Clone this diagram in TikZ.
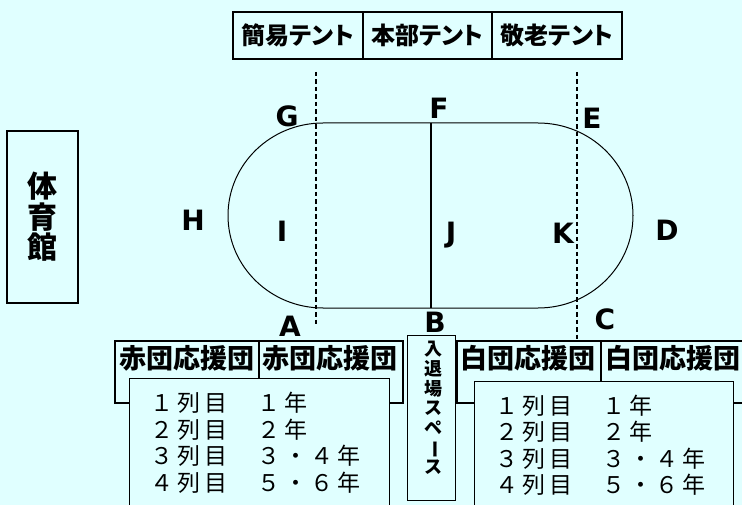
\documentclass[tikz,border=0pt]{standalone}
\usepackage{fontspec}
\newfontfamily\jp{Noto Sans CJK JP}
\newfontfamily\latn{DejaVu Sans}
\definecolor{bg}{RGB}{224,255,255}
\makeatletter
\newcommand\pitched[2]{\@tfor\pp@c:=#2\do{\makebox[#1][c]{\pp@c}}}
\makeatother
\tikzset{
  lbl/.style={font=\latn\bfseries\fontsize{28}{28}\selectfont,inner sep=0pt},
  tentbox/.style={draw,fill=bg,line width=1.5pt,minimum height=47pt,inner sep=0pt,
    font=\jp\bfseries\fontsize{24}{24}\selectfont\addfontfeature{RawFeature=+palt}},
  framebox/.style={draw,fill=bg,line width=1.3pt},
  listbox/.style={draw,fill=bg,line width=1pt},
  hdrtext/.style={inner sep=0pt,font=\jp\bfseries\fontsize{27}{27}\selectfont},
  rowtext/.style={inner sep=0pt,anchor=west,font=\jp\fontsize{23}{23}\selectfont},
  track/.style={line width=1pt},
  guide/.style={line width=1.1pt,dash pattern=on 4.5pt off 3pt},
}
\begin{document}
\begin{tikzpicture}[x=1pt,y=-1pt]
\useasboundingbox (0,0) rectangle (742,505);
\fill[bg] (0,0) rectangle (742,505);
\clip (0,0) rectangle (742,505);

% track
\coordinate (tl) at (323,123);
\coordinate (tr) at (538,123);
\coordinate (br) at (538,308);
\coordinate (bl) at (323,308);
\draw[track] (tl) -- (tr) arc[start angle=90,end angle=-90,x radius=95pt,y radius=92.5pt]
  -- (bl) arc[start angle=270,end angle=90,x radius=95pt,y radius=92.5pt] -- cycle;

% centre line F-B
\coordinate (ftop) at (431,123);
\coordinate (bbot) at (431,308);
\draw[line width=1.7pt] (ftop) -- (bbot);

% dashed guides
\coordinate (d1a) at (316,72);
\coordinate (d1b) at (316,327);
\coordinate (d2a) at (577,72);
\coordinate (d2b) at (577,341);
\draw[guide] (d1a) -- (d1b);
\draw[guide] (d2a) -- (d2b);

% tents
\node[tentbox,minimum width=130pt] (t1) at (298,35.5) {簡易テント};
\node[tentbox,minimum width=129pt] (t2) at (427.5,35.5) {本部テント};
\node[tentbox,minimum width=130pt] (t3) at (557,35.5) {敬老テント};

% gym
\node[draw,fill=bg,line width=2pt,minimum width=71pt,minimum height=172pt,inner sep=0pt,
  align=center,font=\jp\bfseries\fontsize{30}{30.5}\selectfont] (gym) at (42.5,217) {体\\育\\館};

% letters
\node[lbl] (G) at (287,116) {G};
\node[lbl] (F) at (439,108) {F};
\node[lbl] (E) at (592,118) {E};
\node[lbl] (H) at (193,220) {H};
\node[lbl] (I) at (282,231) {I};
\node[lbl] (J) at (451,235) {J};
\node[lbl] (K) at (563,233) {K};
\node[lbl] (D) at (667,230) {D};
\node[lbl] (A) at (290,326) {A};
\node[lbl] (B) at (435,322) {B};
\node[lbl] (C) at (605,319) {C};

% red side
\draw[framebox] (115,341) rectangle (403,403);
\draw[line width=1.3pt] (259,341) -- (259,378);
\draw[listbox] (129,378) rectangle (389,520);
\node[hdrtext] (r1) at (187,358) {赤団応援団};
\node[hdrtext] (r2) at (330,358) {赤団応援団};
\node[rowtext] (rr1) at (148.7,403) {\pitched{26.7pt}{１列目　１年}};
\node[rowtext] (rr2) at (148.7,429.5) {\pitched{26.7pt}{２列目　２年}};
\node[rowtext] (rr3) at (148.7,456) {\pitched{26.7pt}{３列目　３・４年}};
\node[rowtext] (rr4) at (148.7,482.5) {\pitched{26.7pt}{４列目　５・６年}};

% white side
\draw[framebox] (457,341) rectangle (760,403);
\draw[line width=1.3pt] (601,341) -- (601,381);
\draw[listbox] (474,381) rectangle (733,520);
\node[hdrtext] (w1) at (528,358) {白団応援団};
\node[hdrtext] (w2) at (672.5,358) {白団応援団};
\node[rowtext] (wr1) at (493.6,405.5) {\pitched{26.7pt}{１列目　１年}};
\node[rowtext] (wr2) at (493.6,432) {\pitched{26.7pt}{２列目　２年}};
\node[rowtext] (wr3) at (493.6,458.5) {\pitched{26.7pt}{３列目　３・４年}};
\node[rowtext] (wr4) at (493.6,485) {\pitched{26.7pt}{４列目　５・６年}};

% entrance space
\node[draw,fill=bg,line width=1pt,minimum width=48pt,minimum height=165pt,inner sep=0pt]
  (ent) at (431.5,417.5) {};
\node[align=center,inner sep=0pt,font=\jp\bfseries\fontsize{18}{19.6}\selectfont]
  (enttext) at (433,408)
  {入\\退\\場\\ス\\ペ\\\rotatebox[origin=c]{-90}{ー}\\ス};
\end{tikzpicture}
\end{document}
